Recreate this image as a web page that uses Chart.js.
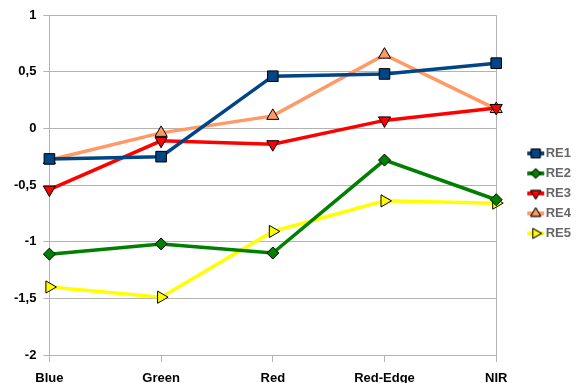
<!DOCTYPE html>
<html>
<head>
<meta charset="utf-8">
<script src="https://cdn.jsdelivr.net/npm/chart.js@4/dist/chart.umd.min.js"></script>
<style>
  html, body { margin: 0; padding: 0; background: #fff; }
  #wrap { width: 577px; height: 383px; }
</style>
</head>
<body>
<div id="wrap"><canvas id="chart" width="577" height="383"></canvas></div>
<script>
// data
const bands = ['Blue', 'Green', 'Red', 'Red-Edge', 'NIR'];
const re1 = [-0.27, -0.25, 0.46, 0.48, 0.575];
const re2 = [-1.11, -1.02, -1.10, -0.28, -0.63];
const re3 = [-0.54, -0.11, -0.14, 0.07, 0.18];
const re4 = [-0.28, -0.04, 0.11, 0.65, 0.17];
const re5 = [-1.40, -1.49, -0.91, -0.64, -0.66];

const font = { family: '"Liberation Sans", Arial, sans-serif', size: 13, weight: 'bold' };

// legend symbol: line stub + marker, drawn in the right part of a wider canvas
function legendIcon(color, style, rot, r) {
    const c = document.createElement('canvas');
    c.width = 48; c.height = 14;
    const ctx = c.getContext('2d');
    const cx = 38.5;
    ctx.strokeStyle = color;
    ctx.lineWidth = 4;
    ctx.beginPath(); ctx.moveTo(cx - 8.5, 7); ctx.lineTo(cx + 8.5, 7); ctx.stroke();
    ctx.fillStyle = color;
    ctx.strokeStyle = '#000';
    ctx.lineWidth = 1;
    Chart.helpers.drawPoint(ctx, { pointStyle: style, rotation: rot, radius: r, borderWidth: 1 }, cx, 7);
    ctx.fill(); ctx.stroke();
    return c;
}

const series = [
    { label: 'RE1', data: re1, color: '#004586', style: 'rect', rot: 0, r: 7.5 },
    { label: 'RE2', data: re2, color: '#007f00', style: 'rectRot', rot: 0, r: 6 },
    { label: 'RE3', data: re3, color: '#ff0000', style: 'triangle', rot: 180, r: 7 },
    { label: 'RE4', data: re4, color: '#ff9966', style: 'triangle', rot: 0, r: 7 },
    { label: 'RE5', data: re5, color: '#ffff00', style: 'triangle', rot: 90, r: 7 }
];

const datasets = series.map(s => ({
    label: s.label,
    data: s.data,
    borderColor: s.color,
    backgroundColor: s.color,
    borderWidth: 3.5,
    tension: 0,
    pointStyle: s.style,
    pointRotation: s.rot,
    pointRadius: s.r,
    pointBackgroundColor: s.color,
    pointBorderColor: '#000',
    pointBorderWidth: 1,
    icon: legendIcon(s.color, s.style, s.rot, s.r - 1.2)
}));

new Chart(document.getElementById('chart'), {
    type: 'line',
    data: { labels: bands, datasets: datasets },
    options: {
        responsive: false,
        animation: false,
        layout: { padding: { top: 15, right: -4, left: 7, bottom: 0 } },
        plugins: {
            tooltip: { enabled: false },
            legend: {
                position: 'right',
                fullSize: false,
                // empty title only to push the entries down a little
                title: { display: true, text: '', font: { size: 14 }, padding: 0 },
                labels: {
                    color: '#000',
                    font: font,
                    usePointStyle: true,
                    pointStyleWidth: 36,
                    padding: 7,
                    generateLabels: chart => chart.data.datasets.map((d, i) => ({
                        text: d.label,
                        pointStyle: d.icon,
                        fillStyle: d.borderColor,
                        strokeStyle: d.borderColor,
                        lineWidth: 0,
                        datasetIndex: i
                    }))
                }
            }
        },
        scales: {
            x: {
                offset: false,
                grid: {
                    color: ctx => (ctx.index === 0 || ctx.index === bands.length - 1) ? '#b3b3b3' : 'rgba(0,0,0,0)',
                    tickColor: '#b3b3b3',
                    tickLength: 7,
                    lineWidth: 1
                },
                border: { display: false },
                ticks: { color: '#000', font: font, padding: 9, maxRotation: 0 },
                afterFit: scale => { scale.height = 28; }
            },
            y: {
                min: -2,
                max: 1,
                grid: { color: '#b3b3b3', tickColor: '#b3b3b3', tickLength: 6 },
                border: { display: false },
                ticks: {
                    stepSize: 0.5,
                    color: '#000',
                    font: font,
                    padding: 7,
                    callback: v => String(v).replace('.', ',')
                }
            }
        }
    }
});
</script>
</body>
</html>
